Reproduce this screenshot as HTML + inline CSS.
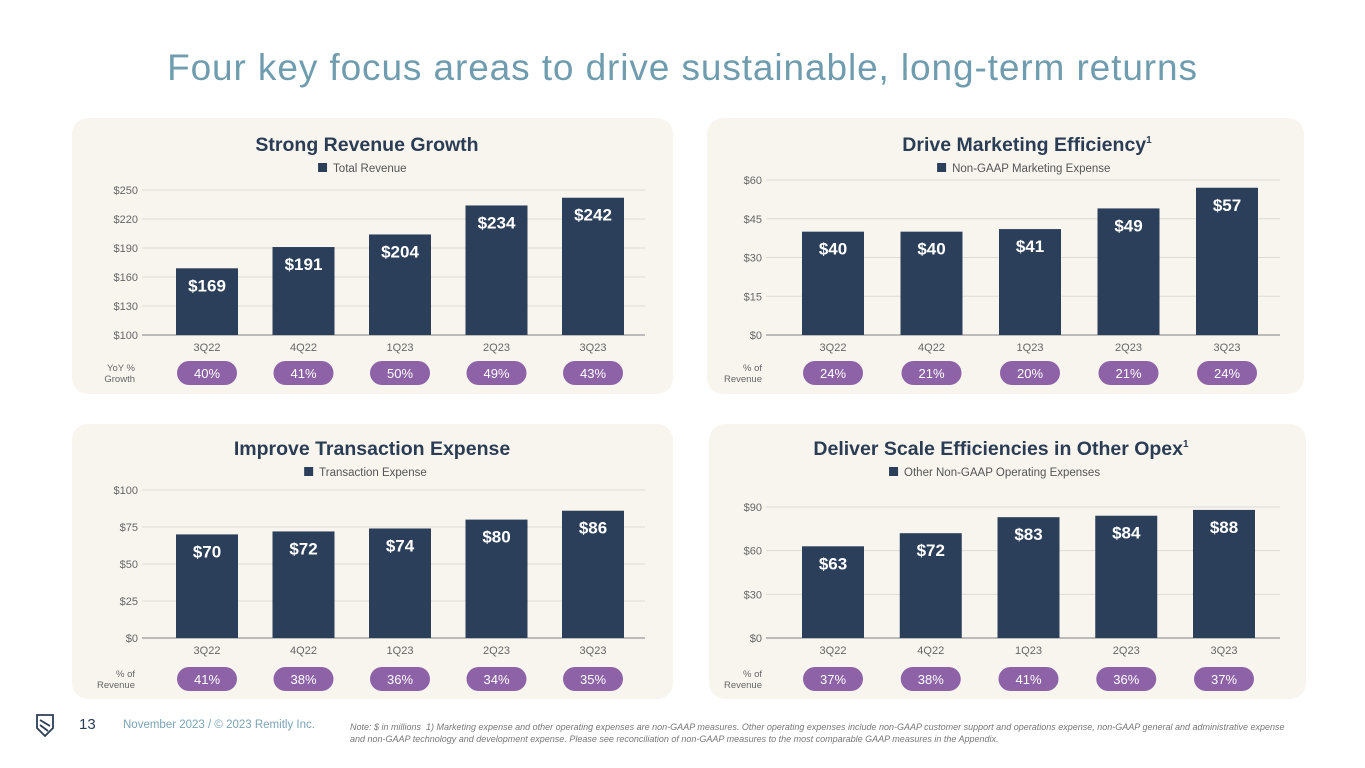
<!DOCTYPE html>
<html><head><meta charset="utf-8">
<style>
body{margin:0;width:1365px;height:768px;background:#fff;font-family:"Liberation Sans",sans-serif;overflow:hidden;position:relative}
.title{position:absolute;top:47px;left:0;width:1365px;text-align:center;font-size:37px;color:#6f9cae;letter-spacing:0.9px}
.panel{position:absolute;background:#f8f5ef;border-radius:16px}
svg{position:absolute;left:0;top:0}
.foot{position:absolute;font-size:11px;color:#7aa3b5}
.note{position:absolute;left:350px;top:721px;width:940px;font-size:9px;font-style:italic;color:#777;line-height:12px}
</style></head><body>
<div class="title">Four key focus areas to drive sustainable, long-term returns</div>
<div class="panel" style="left:72px;top:118px;width:601px;height:276px"></div>
<div class="panel" style="left:707px;top:118px;width:597px;height:276px"></div>
<div class="panel" style="left:72px;top:424px;width:601px;height:275px"></div>
<div class="panel" style="left:709px;top:424px;width:597px;height:275px"></div>
<svg id="s" width="1365" height="768"></svg>
<svg width="1365" height="768"><path d="M37 715 L53 715 L53 728 L45 736 L37 728 Z M40 720 L50 726 M40 725 L48 731" fill="none" stroke="#2b3d55" stroke-width="1.8"/></svg>
<div class="foot" style="left:79px;top:716px;font-size:15px;color:#2b3d55">13</div>
<div class="foot" style="left:123px;top:719px;font-size:11.5px">November 2023 / © 2023 Remitly Inc.</div>
<div class="note">Note: $ in millions &nbsp;1) Marketing expense and other operating expenses are non-GAAP measures. Other operating expenses include non-GAAP customer support and operations expense, non-GAAP general and administrative expense and non-GAAP technology and development expense. Please see reconciliation of non-GAAP measures to the most comparable GAAP measures in the Appendix.</div>
<script>
const categories=["3Q22","4Q22","1Q23","2Q23","3Q23"];
const revenueValues=[169,191,204,234,242];
const revenueTicks=[100,130,160,190,220,250];
const revenueGrowth=["40%","41%","50%","49%","43%"];
const marketingValues=[40,40,41,49,57];
const marketingTicks=[0,15,30,45,60];
const marketingPct=["24%","21%","20%","21%","24%"];
const transactionValues=[70,72,74,80,86];
const transactionTicks=[0,25,50,75,100];
const transactionPct=["41%","38%","36%","34%","35%"];
const opexValues=[63,72,83,84,88];
const opexTicks=[0,30,60,90];
const opexPct=["37%","38%","41%","36%","37%"];

const NS="http://www.w3.org/2000/svg";
const svg=document.getElementById('s');
function mk(tag,attrs,text,parent){const e=document.createElementNS(NS,tag);for(const k in attrs)e.setAttribute(k,attrs[k]);if(text!==undefined)e.textContent=text;(parent||svg).appendChild(e);return e;}
function chart(o){
  const yMin=o.ticks[0],yMax=o.ticks[o.ticks.length-1];
  const y=v=>o.y0+(o.y1-o.y0)*(v-yMin)/(yMax-yMin);
  const x=i=>o.xc0+i*(o.xcN-o.xc0)/(categories.length-1);
  let t=mk('text',{x:o.cx,y:o.ty,'text-anchor':'middle','font-size':19.5,'font-weight':'bold',fill:'#2b3d55'},o.title);
  
  if(o.sup){let s=mk('tspan',{dy:-8,'font-size':10},'1',t);}
  let lw=o.legend.length*6.3+16;
  let ls=mk('rect',{x:o.cx-lw/2,y:o.ty+12,width:9,height:9,fill:'#2b3f5a'});
  
  let lt=mk('text',{x:o.cx-lw/2+15,y:o.ty+21,'font-size':11.5,fill:'#555'},o.legend);
  
  o.ticks.forEach(v=>{
    let g=mk('line',{x1:o.gx0,x2:o.gx1,y1:y(v),y2:y(v),stroke:v===yMin?'#999':'#dedbd5','stroke-width':v===yMin?1.2:1});
    
    let l=mk('text',{x:o.gx0-4,y:y(v)+4,'text-anchor':'end','font-size':11,fill:'#666'},'$'+v);
    
  });
  o.values.forEach((v,i)=>{
    let b=mk('rect',{x:x(i)-31,y:y(v),width:62,height:y(yMin)-y(v),fill:'#2b3f5a'});
    
    let vl=mk('text',{x:x(i),y:y(v)+23,'text-anchor':'middle','font-size':17,'font-weight':'bold',fill:'#fff'},'$'+v);
    
    let c=mk('text',{x:x(i),y:y(yMin)+16,'text-anchor':'middle','font-size':11,fill:'#666'},categories[i]);
    
    let p=mk('rect',{x:x(i)-30,y:o.py-12,width:60,height:24,rx:12,fill:'#8d62a6'});
    
    let pt=mk('text',{x:x(i),y:o.py+5,'text-anchor':'middle','font-size':13,fill:'#fff'},o.pct[i]);
    
  });
  o.rowLabel.forEach((s,k)=>{let r=mk('text',{x:o.rlx,y:o.py-2+k*11,'text-anchor':'end','font-size':9.5,fill:'#666'},s);});
}
chart({key:'revenue',title:'Strong Revenue Growth',legend:'Total Revenue',cx:367,ty:151,values:revenueValues,ticks:revenueTicks,y0:335,y1:190,xc0:207,xcN:593,gx0:142,gx1:645,py:373,pct:revenueGrowth,rowLabel:['YoY %','Growth'],rlx:135});
chart({key:'marketing',title:'Drive Marketing Efficiency',sup:true,legend:'Non-GAAP Marketing Expense',cx:1027,ty:151,values:marketingValues,ticks:marketingTicks,y0:335,y1:180,xc0:833,xcN:1227,gx0:766,gx1:1280,py:373,pct:marketingPct,rowLabel:['% of','Revenue'],rlx:762});
chart({key:'transaction',title:'Improve Transaction Expense',legend:'Transaction Expense',cx:372,ty:455,values:transactionValues,ticks:transactionTicks,y0:638,y1:490,xc0:207,xcN:593,gx0:142,gx1:645,py:679,pct:transactionPct,rowLabel:['% of','Revenue'],rlx:762-627});
chart({key:'opex',title:'Deliver Scale Efficiencies in Other Opex',sup:true,legend:'Other Non-GAAP Operating Expenses',cx:1001,ty:455,values:opexValues,ticks:opexTicks,y0:638,y1:507,xc0:833,xcN:1224,gx0:766,gx1:1280,py:679,pct:opexPct,rowLabel:['% of','Revenue'],rlx:762});
</script>
</body></html>
